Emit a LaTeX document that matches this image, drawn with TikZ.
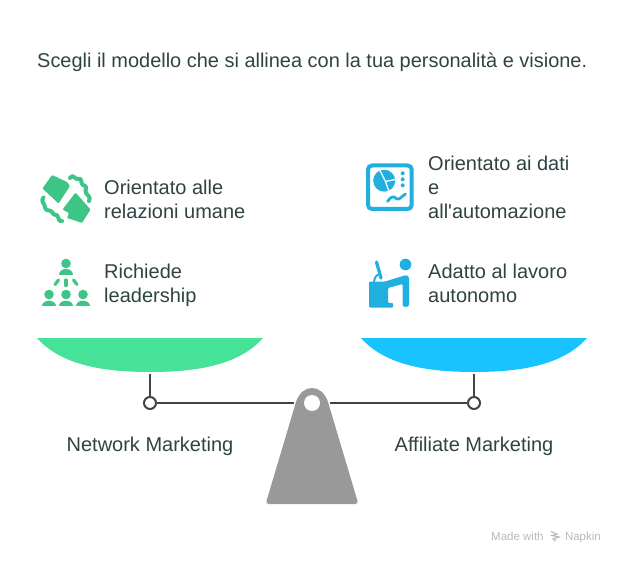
\documentclass[tikz,border=0pt]{standalone}
\usepackage{fontspec}
\setmainfont{Liberation Sans}
\newfontfamily\plainf{Liberation Sans}
\definecolor{txt}{HTML}{2F4343}
\definecolor{lgreen}{HTML}{45E298}
\definecolor{lblue}{HTML}{19C3FF}
\definecolor{igreen}{HTML}{3DC586}
\definecolor{iblue}{HTML}{1FB0E0}
\definecolor{beamc}{HTML}{444444}
\definecolor{fulc}{HTML}{999999}
\tikzset{
 lab/.style={text=txt,font=\fontsize{20}{24}\selectfont,align=left,anchor=west,inner sep=0pt},
 caplab/.style={text=txt,font=\fontsize{20}{24}\selectfont,inner sep=0pt},
 beam/.style={draw=beamc,line width=2pt},
 pivot/.style={circle,draw=beamc,fill=white,line width=2pt,minimum size=12pt,inner sep=0pt},
 ig/.style={fill=igreen,draw=none},
 ib/.style={fill=iblue,draw=none},
 gline/.style={draw=igreen,line cap=round,line join=round},
 bline/.style={draw=iblue,line cap=round,line join=round}
}
\begin{document}
\begin{tikzpicture}[x=1pt,y=-1pt]
\useasboundingbox (0,0) rectangle (624,564);
\node[text=txt,font=\fontsize{19.95}{24}\selectfont,anchor=west,inner sep=0pt] (title) at (37,62) {Scegli il modello che si allinea con la tua personalità e visione.};
% pans
\fill[lgreen] (37,338) -- (263,338) .. controls (240,364) and (200,372) .. (150,372) .. controls (100,372) and (60,364) .. (37,338) -- cycle;
\fill[lblue] (361,338) -- (587,338) .. controls (564,364) and (524,372) .. (474,372) .. controls (424,372) and (384,364) .. (361,338) -- cycle;
\coordinate (lt) at (150,374);
\coordinate (rt) at (474,374);
\node[pivot] (lp) at (150,403) {};
\node[pivot] (rp) at (474,403) {};
\coordinate (fl) at (294,403);
\coordinate (fr) at (330,403);
\draw[beam] (lt) -- (lp);
\draw[beam] (rt) -- (rp);
\draw[beam] (lp) -- (fl);
\draw[beam] (rp) -- (fr);
% fulcrum
\fill[fulc] (266.5,501) .. controls (266,503) and (267,504) .. (269,504) -- (355,504) .. controls (357,504) and (358,503) .. (357.5,501) -- (328,402) .. controls (325,393) and (319,388) .. (312,388) .. controls (305,388) and (299,393) .. (296,402) -- cycle;
\fill[white] (312,403) circle (8);
% labels
\node[caplab] (nm) at (150,446) {Network Marketing};
\node[caplab] (am) at (474,446) {Affiliate Marketing};
\node[lab] (a1) at (104,199.5) {Orientato alle\\relazioni umane};
\node[lab] (a2) at (104,285.5) {Richiede\\leadership};
\node[lab] (b1) at (428,187.5) {Orientato ai dati\\e\\all{\plainf '}automazione};
\node[lab] (b2) at (428,283.5) {Adatto al lavoro\\autonomo};
\node[text=black!28,font=\fontsize{11.5}{13}\selectfont,anchor=base west,inner sep=0pt] (nap1) at (491,540) {Made with};
\node[text=black!28,font=\fontsize{11.5}{13}\selectfont,anchor=base east,inner sep=0pt] (nap2) at (601,540) {Napkin};
\draw[black!28,line width=1.1pt] (551,531.5) -- (557,534) -- (552,535.5) -- (559,537) -- (553,539) -- (556,541);
% handshake icon
\fill[ig,rounded corners=1pt] (52,175) -- (67,182) -- (70,186) -- (58.5,203.5) -- (42.5,188.5) -- cycle;
\fill[ig,rounded corners=1pt] (75.5,192.5) -- (90.5,209.5) -- (82,223) -- (67,218) -- (69,213) -- (62.5,209.5) -- cycle;
\draw[gline,line width=4pt] (70,178) .. controls (73,173) and (75,180) .. (78,179) .. controls (83,177) and (80,184) .. (83,185) .. controls (89,186) and (84,191) .. (86,193) .. controls (88,196) and (91,197) .. (89,201);
\draw[gline,line width=4pt] (43.5,197.5) .. controls (40,201) and (45,204) .. (45,207) .. controls (45,212) and (50,209) .. (52,212) .. controls (54,217) and (57,213) .. (58,217) .. controls (59,221) and (61,222) .. (62,221);
% leadership icon
\fill[ig] (66,263.5) circle (4.8);
\fill[ig] (59,275) .. controls (59,267.5) and (73,267.5) .. (73,275) -- cycle;
\foreach \hx in {49,66,83}{
 \fill[ig] (\hx,294.5) circle (4.8);
 \fill[ig] ({\hx-7},306) .. controls ({\hx-7},298.5) and ({\hx+7},298.5) .. ({\hx+7},306) -- cycle;
}
\draw[gline,line width=3.2pt] (58.5,280) -- (55,284.5);
\draw[gline,line width=3.2pt] (66,280) -- (66,285.5);
\draw[gline,line width=3.2pt] (73.5,280) -- (77,284.5);
% data icon
\draw[draw=iblue,line width=4pt,rounded corners=4pt] (368,165.5) rectangle (411.7,209);
\fill[ib] (384.2,180.7) circle (11);
\draw[white,line width=1.3pt] (379,168.5) -- (385.5,181.5) -- (397.5,179);
\draw[white,line width=1.3pt] (385.5,181.5) -- (389.5,193);
\fill[ib] (402.7,173.3) circle (2);
\fill[ib] (402.7,179.3) circle (2);
\fill[ib] (402.7,185.3) circle (2);
\draw[bline,line width=2.8pt] (387.5,201.5) .. controls (391,196) and (394,196) .. (396,198.5) .. controls (399,201) and (402,196) .. (405.5,194);
% worker icon
\fill[ib] (405.5,264.5) circle (5.8);
\fill[ib,rounded corners=1pt] (369,281.5) -- (385,281.5) -- (404,275.7) .. controls (407,275) and (409,275.5) .. (409,279) -- (409,304) .. controls (409,307.5) and (402.5,307.5) .. (402.5,304) -- (402.5,284) -- (388,288) -- (388,303) -- (393,303) -- (393,307.5) -- (369,307.5) -- cycle;
\draw[bline,line width=3.3pt] (376.5,262) -- (381,278);
\draw[bline,line width=2pt] (374,283) .. controls (374,278) and (376,275) .. (380,274);
\end{tikzpicture}
\end{document}
